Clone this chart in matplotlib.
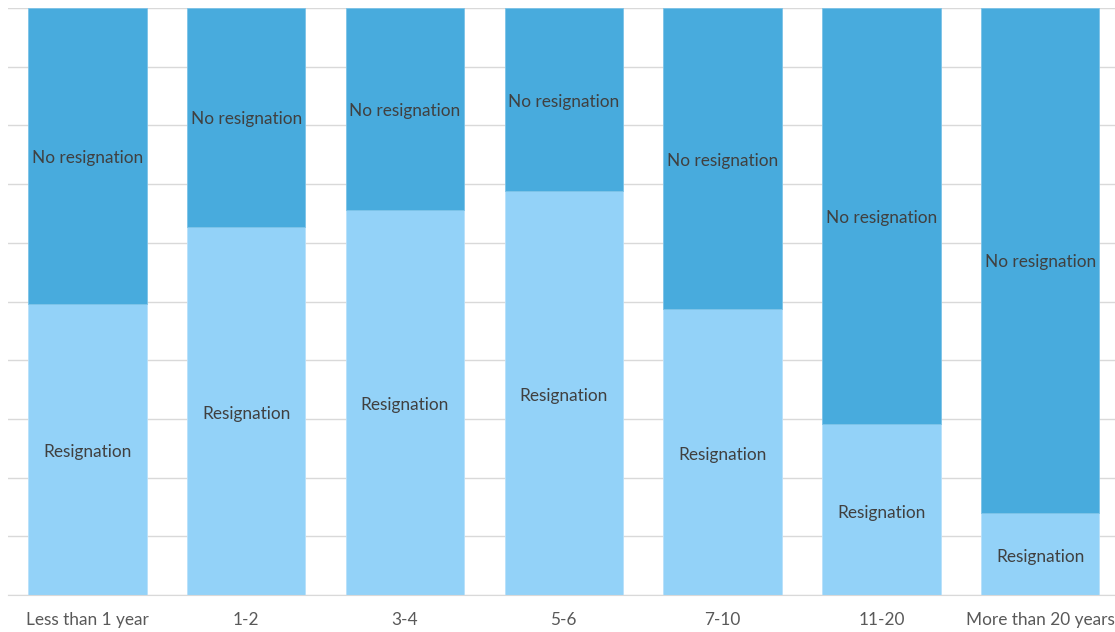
import matplotlib.pyplot as plt
import numpy as np

# share of respondents by years of service
categories = ['Less than 1 year', '1-2', '3-4', '5-6', '7-10', '11-20', 'More than 20 years']
resignation = [49.6, 62.7, 65.6, 68.8, 48.7, 29.1, 14.0]
no_resignation = [100 - v for v in resignation]

plt.rcParams['font.family'] = ['Lato', 'DejaVu Sans']

fig = plt.figure(figsize=(11.15, 6.32), dpi=100)
x0, x1 = 8 / 1115, 1119.6 / 1115
ax = fig.add_axes([x0, 1 - 595 / 632, x1 - x0, 587 / 632])

x = np.arange(len(categories))
light = '#93d2f8'
dark = '#48abdd'
ax.bar(x, resignation, width=0.745, color=light, edgecolor='#b8e0fa', linewidth=0.6, zorder=2)
ax.bar(x, no_resignation, bottom=resignation, width=0.745, color=dark,
       edgecolor='#7cc3e8', linewidth=0.6, zorder=2)

for i in range(len(categories)):
    ax.annotate('Resignation', (x[i], resignation[i] / 2), xytext=(0, -3),
                textcoords='offset pixels', ha='center', va='center',
                fontsize=12.4, color='#404040', zorder=3)
    ax.annotate('No resignation', (x[i], resignation[i] + no_resignation[i] / 2),
                xytext=(0, -2), textcoords='offset pixels', ha='center', va='center',
                fontsize=12.4, color='#404040', zorder=3)

ax.set_xlim(-0.5, len(categories) - 0.5)
ax.set_ylim(0, 100)
ax.set_yticks(np.arange(0, 101, 10))
ax.yaxis.grid(True, color='#d9d9d9', linewidth=1, zorder=0)
ax.set_axisbelow(True)
ax.tick_params(axis='y', left=False, labelleft=False)
ax.tick_params(axis='x', bottom=False, pad=9, labelsize=12.4, labelcolor='#595959')
ax.set_xticks(x)
ax.set_xticklabels(categories)
for s in ['top', 'left', 'right']:
    ax.spines[s].set_visible(False)
ax.spines['bottom'].set_color('#d9d9d9')

fig.savefig('out.png', dpi=100)
